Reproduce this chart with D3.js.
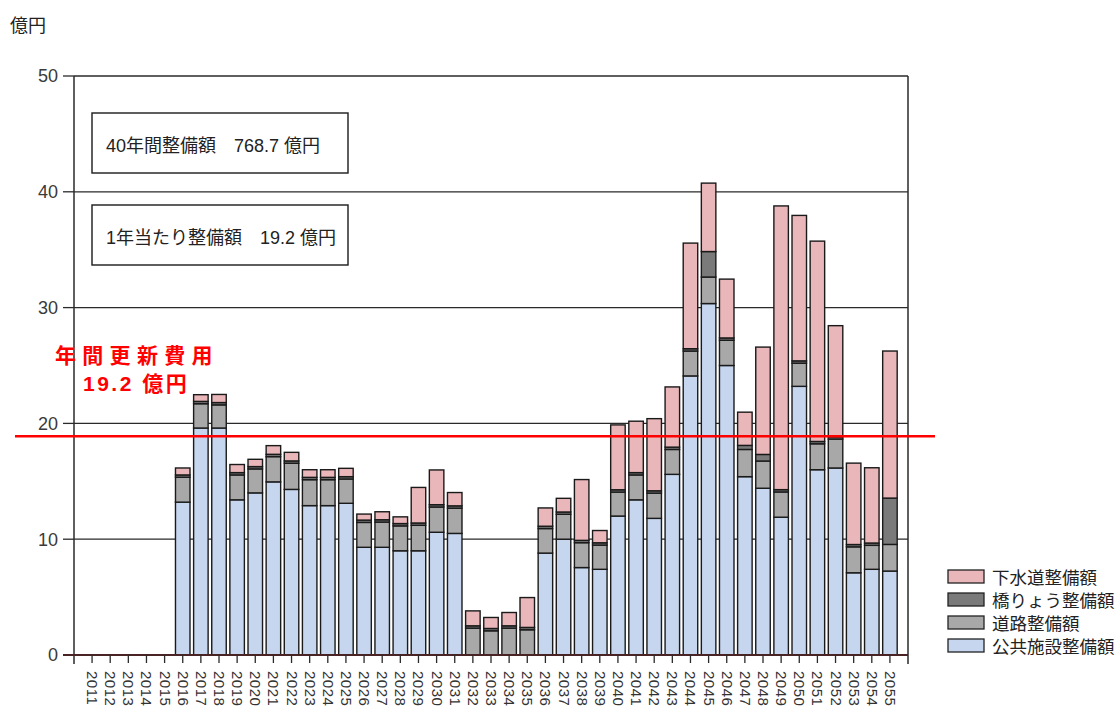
<!DOCTYPE html>
<html><head><meta charset="utf-8">
<script src="https://cdn.jsdelivr.net/npm/d3@7"></script>
<style>body{margin:0;background:#fff}svg{display:block}text{font-family:"Liberation Sans","Noto Sans CJK JP",sans-serif}</style>
</head><body><svg id="c" width="1119" height="711"></svg>
<script>
const years = d3.range(2011, 2056).map(String);
const seriesNames = ["公共施設整備額", "道路整備額", "橋りょう整備額", "下水道整備額"];
const publicFacilities = [0,0,0,0,0,13.2,19.6,19.6,13.4,14.0,14.95,14.3,12.9,12.9,13.1,9.3,9.3,9.0,9.0,10.6,10.5,0,0,0,0,8.8,10.0,7.55,7.4,12.0,13.4,11.8,15.6,24.1,30.35,25.0,15.4,14.4,11.9,23.2,16.0,16.15,7.1,7.4,7.25];
const roads = [0,0,0,0,0,2.15,2.1,2.0,2.15,2.07,2.18,2.26,2.24,2.24,2.1,2.15,2.18,2.15,2.2,2.18,2.18,2.32,2.09,2.32,2.18,2.12,2.15,2.15,2.09,2.07,2.15,2.18,2.15,2.15,2.29,2.18,2.35,2.35,2.18,2.0,2.24,2.5,2.24,2.07,2.3];
const bridges = [0,0,0,0,0,0.2,0.2,0.2,0.2,0.2,0.2,0.2,0.2,0.2,0.2,0.2,0.2,0.2,0.2,0.2,0.2,0.2,0.2,0.2,0.2,0.2,0.2,0.2,0.2,0.2,0.2,0.2,0.2,0.2,2.2,0.2,0.35,0.57,0.2,0.2,0.2,0.2,0.2,0.2,4.0];
const sewers = [0,0,0,0,0,0.6,0.58,0.7,0.7,0.63,0.75,0.74,0.66,0.66,0.72,0.52,0.69,0.58,3.07,3.0,1.15,1.29,0.95,1.15,2.58,1.58,1.18,5.25,1.06,5.6,4.44,6.23,5.2,9.12,5.91,5.08,2.87,9.27,24.5,12.56,17.3,9.59,7.03,6.5,12.7];
const yTicks = [0,10,20,30,40,50];
const colors = ["#c6d6ef", "#a8a8a8", "#7a7a7a", "#e9b6b9"];
const unitLabel = "億円";
const box1Text = "40年間整備額　768.7 億円";
const box2Text = "1年当たり整備額　19.2 億円";
const redLabel1 = "年間更新費用";
const redLabel2 = "19.2 億円";
const redLineValue = 18.9;

(function () {
const svg = d3.select("#c");
const pLeft = 74, pRight = 908, pTop = 76, pBottom = 655;
const y = d3.scaleLinear().domain([0, 50]).range([pBottom, pTop]);
const x = d3.scaleBand().domain(years).range([83, 899]).paddingInner(0.2).paddingOuter(0.1);

// gridlines
svg.append("g").selectAll("line").data(yTicks.filter(d => d > 0)).join("line")
  .attr("x1", pLeft).attr("x2", pRight).attr("y1", d => y(d)).attr("y2", d => y(d))
  .attr("stroke", "#2a2a2a").attr("stroke-width", 1.3);

// y axis
const ya = svg.append("g");
ya.selectAll("line").data(yTicks).join("line")
  .attr("x1", 63).attr("x2", pLeft).attr("y1", d => y(d)).attr("y2", d => y(d))
  .attr("stroke", "#2a2a2a").attr("stroke-width", 1.3);
ya.selectAll("text").data(yTicks).join("text")
  .attr("x", 58).attr("y", d => y(d)).attr("dy", "0.36em").attr("text-anchor", "end")
  .attr("font-size", 18).attr("fill", "#3a3a3a").text(d => d);
svg.append("line").attr("x1", pLeft).attr("x2", pLeft).attr("y1", pTop).attr("y2", pBottom + 9)
  .attr("stroke", "#2a2a2a").attr("stroke-width", 1.5);
svg.append("line").attr("x1", pRight).attr("x2", pRight).attr("y1", pTop).attr("y2", pBottom + 9)
  .attr("stroke", "#2a2a2a").attr("stroke-width", 1.5);

// stacked bars
const table = years.map((yr, i) => ({year: yr, s0: publicFacilities[i], s1: roads[i], s2: bridges[i], s3: sewers[i]}));
const stack = d3.stack().keys(["s0","s1","s2","s3"])(table);
const bw = x.bandwidth();
svg.append("g").selectAll("g").data(stack).join("g")
  .attr("fill", (d, i) => colors[i])
  .selectAll("rect").data(d => d).join("rect")
  .attr("x", d => x(d.data.year)).attr("width", bw)
  .attr("y", d => y(d[1])).attr("height", d => y(d[0]) - y(d[1]))
  .attr("stroke", "#1a1a1a").attr("stroke-width", 1.4);

// x axis baseline & ticks
svg.append("line").attr("x1", 63).attr("x2", pRight).attr("y1", pBottom).attr("y2", pBottom)
  .attr("stroke", "#4a2424").attr("stroke-width", 2);
const xa = svg.append("g");
xa.selectAll("line").data(years).join("line")
  .attr("x1", d => x(d) + bw / 2).attr("x2", d => x(d) + bw / 2)
  .attr("y1", pBottom).attr("y2", pBottom + 8).attr("stroke", "#2a2a2a").attr("stroke-width", 1.3);
xa.selectAll("text").data(years).join("text")
  .attr("transform", d => `translate(${x(d) + bw / 2 - 5},${pBottom + 16}) rotate(90)`)
  .attr("font-size", 15).attr("letter-spacing", 0.5).attr("fill", "#333").text(d => d);

// red reference line and label
svg.append("line").attr("x1", 15).attr("x2", 935).attr("y1", y(redLineValue)).attr("y2", y(redLineValue))
  .attr("stroke", "#ff0000").attr("stroke-width", 2.5);
svg.append("text").attr("x", 55).attr("y", 363).attr("font-size", 21).attr("font-weight", "bold")
  .attr("font-family", "'Noto Sans CJK JP', sans-serif")
  .attr("letter-spacing", 6.3).attr("fill", "#ff0000").text(redLabel1);
svg.append("text").attr("x", 83).attr("y", 391).attr("font-size", 21).attr("font-weight", "bold")
  .attr("letter-spacing", 2.5).attr("fill", "#ff0000").text(redLabel2);

// unit label
svg.append("text").attr("x", 10).attr("y", 32).attr("font-size", 18).attr("fill", "#222").text(unitLabel);

// info boxes
[[113, box1Text], [205, box2Text]].forEach(([by, t]) => {
  svg.append("rect").attr("x", 92).attr("y", by).attr("width", 256).attr("height", 60)
    .attr("fill", "#fff").attr("stroke", "#1a1a1a").attr("stroke-width", 1.4);
  svg.append("text").attr("x", 106).attr("y", by + 39).attr("font-size", 18).attr("fill", "#222").text(t);
});

// legend
const legendOrder = [3, 2, 1, 0];
const lg = svg.append("g");
legendOrder.forEach((si, k) => {
  const ly = 570 + k * 23;
  lg.append("rect").attr("x", 948).attr("y", ly).attr("width", 36).attr("height", 13)
    .attr("fill", colors[si]).attr("stroke", "#222").attr("stroke-width", 1.3);
  lg.append("text").attr("x", 992).attr("y", ly + 14).attr("font-size", 17.5).attr("fill", "#222").text(seriesNames[si]);
});
})();
</script></body></html>
